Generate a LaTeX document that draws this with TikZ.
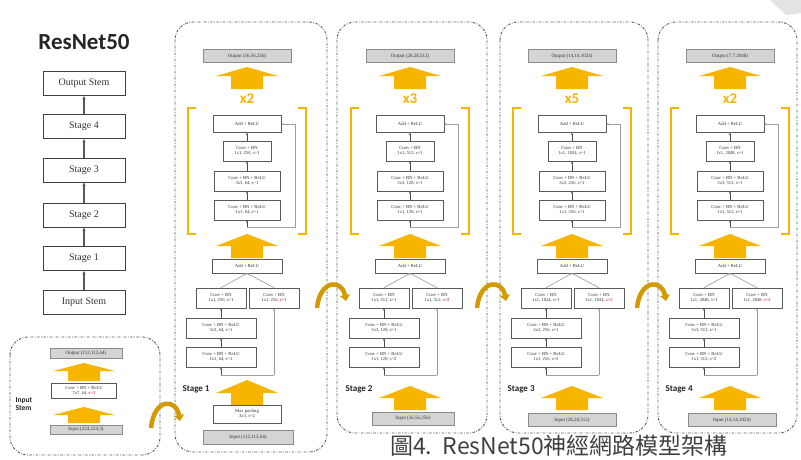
\documentclass[tikz,border=0pt]{standalone}
\usepackage{fontspec}
\setmainfont{Liberation Serif}
\newfontfamily\calib{Carlito}
\newfontfamily\cjk{Noto Sans CJK TC}
\usetikzlibrary{arrows.meta}
\definecolor{gold}{HTML}{F7B500}
\definecolor{iogray}{HTML}{D4D4D4}
\definecolor{boxgray}{HTML}{5A5A5A}
\definecolor{txtgray}{HTML}{333333}
\tikzset{
  box/.style={draw=boxgray, line width=0.6pt, fill=white, align=center, text=txtgray,
    font=\fontsize{4.6}{5.3}\selectfont, inner sep=0.5pt},
  iobox/.style={box, fill=iogray, draw=boxgray!70, font=\fontsize{5}{5.5}\selectfont},
  leftbox/.style={draw=black!75, line width=0.9pt, fill=white, minimum width=82pt,
    minimum height=24pt, font=\fontsize{10}{12}\selectfont, text=black!80},
  flow/.style={-{Stealth[length=2.4pt,width=2.2pt]}, line width=0.6pt, draw=black!70},
  bigflow/.style={-{Stealth[length=3.5pt,width=3.2pt]}, line width=1.2pt, draw=black!65},
  skipline/.style={line width=0.5pt, draw=gray!75},
  stagebox/.style={draw=black!65, line width=0.9pt,
    dash pattern=on 2.5pt off 1.5pt on 0.7pt off 1.5pt, rounded corners=18pt},
  bracketline/.style={draw=gold, line width=1.6pt},
  multlabel/.style={text=gold, font=\calib\bfseries\fontsize{15}{15}\selectfont},
  stagelabel/.style={font=\calib\bfseries\fontsize{9}{9}\selectfont, anchor=west, text=black!85},
  curvarrow/.style={draw=gold!85!black, line width=4.5pt, -{Triangle[length=6pt,width=10pt]}}
}
\newcommand\bigarrow[4]{%
  \fill[gold] (#1,#2) -- (#1+31,#3) -- (#1+16,#3) -- (#1+16,#4) -- (#1-16,#4)
    -- (#1-16,#3) -- (#1-31,#3) -- cycle;}
% upper (identity) block
\newcommand\UpperPart[6]{%
  \node[iobox, minimum width=88pt, minimum height=13pt] (#1out) at (0,56) {Output #2};
  \bigarrow{0}{67}{76}{89}
  \node[multlabel] (#1mult) at (0,99) {#3};
  \draw[bracketline] (-51,108) -| (-59,234) -- (-51,234);
  \draw[bracketline] (51,108) -| (59,234) -- (51,234);
  \node[box, minimum width=68pt, minimum height=17pt] (#1add) at (0,124) {Add + ReLU};
  \node[box, minimum width=48pt, minimum height=20pt] (#1ca) at (0,151) {Conv + BN\\#4};
  \node[box, minimum width=66pt, minimum height=20pt] (#1cb) at (0,181) {Conv + BN + ReLU\\#5};
  \node[box, minimum width=66pt, minimum height=20pt] (#1cc) at (0,210) {Conv + BN + ReLU\\#6};
  \coordinate (#1in) at (0,227);
  \coordinate (#1sk) at (48,227);
  \draw[flow] (#1ca.north) -- (#1add.south);
  \draw[flow] (#1cb.north) -- (#1ca.south);
  \draw[flow] (#1cc.north) -- (#1cb.south);
  \draw[flow] (#1in) -- (#1cc.south);
  \draw[skipline, -{Stealth[length=2.4pt,width=2.2pt]}] (#1in) -- (#1sk) |- (#1add.east);
}
% lower (projection) block
\newcommand\LowerPart[6]{%
  \bigarrow{0}{234}{246}{258}
  \node[box, minimum width=70pt, minimum height=14pt] (#1addb) at (0,266) {Add + ReLU};
  \node[box, minimum width=50pt, minimum height=20pt] (#1la) at (-26,298) {Conv + BN\\#2};
  \node[box, minimum width=50pt, minimum height=20pt] (#1sc) at (27,298) {Conv + BN\\#3};
  \node[box, minimum width=70pt, minimum height=20pt] (#1lb) at (-26,328) {Conv + BN + ReLU\\#4};
  \node[box, minimum width=70pt, minimum height=20pt] (#1lc) at (-26,357) {Conv + BN + ReLU\\#5};
  \coordinate (#1spl) at (-26,375);
  \coordinate (#1spr) at (27,375);
  \draw[flow, draw=gray!80] (#1la.north) -- (#1addb.south);
  \draw[flow, draw=gray!80] (#1sc.north) -- (#1addb.south);
  \draw[flow] (#1lb.north) -- (#1la.south);
  \draw[flow] (#1lc.north) -- (#1lb.south);
  \draw[skipline] (#1spl) -- (#1spr);
  \draw[flow] (#1spl) -- (#1lc.south);
  \draw[flow, draw=gray!80] (#1spr) -- (#1sc.south);
  \node[stagelabel] (#1lab) at (-68,389) {#6};
}
\newcommand\rs[1]{\textcolor{red!75!black}{#1}}
\begin{document}
\begin{tikzpicture}[x=1pt,y=-1pt]
\useasboundingbox (0,0) rectangle (801,459);
\fill[white] (0,0) rectangle (801,459);
\fill[gray!22] (770,0) -- (801,0) -- (801,13) -- (786,15) -- cycle;

% ---------- left overview ----------
\node[font=\calib\bfseries\fontsize{23}{23}\selectfont, text=black!85] (title) at (84,42) {ResNet50};
\node[leftbox] (lout) at (84,83.5) {Output Stem};
\node[leftbox] (ls4) at (84,126.5) {Stage 4};
\node[leftbox] (ls3) at (84,170) {Stage 3};
\node[leftbox] (ls2) at (84,215) {Stage 2};
\node[leftbox] (ls1) at (84,258.5) {Stage 1};
\node[leftbox] (lin) at (84,302) {Input Stem};
\draw[bigflow] (lin.north) -- (ls1.south);
\draw[bigflow] (ls1.north) -- (ls2.south);
\draw[bigflow] (ls2.north) -- (ls3.south);
\draw[bigflow] (ls3.north) -- (ls4.south);
\draw[bigflow] (ls4.north) -- (lout.south);

% ---------- input stem ----------
\draw[stagebox] (10,337) rectangle (160,455);
\node[iobox, minimum width=72pt, minimum height=10pt] (stout) at (86,353) {Output (112,112,64)};
\bigarrow{84}{363}{371}{381}
\node[box, minimum width=65pt, minimum height=15pt] (stconv) at (84,390.5) {Conv + BN + ReLU\\7x7, 64, \rs{s=2}};
\bigarrow{84}{407}{415}{423}
\node[iobox, minimum width=72pt, minimum height=9pt] (stin) at (86,429.5) {Input (224,224,3)};
\node[font=\calib\bfseries\fontsize{7.5}{8.5}\selectfont, align=left, anchor=west, text=black!85] (stlab) at (12,404) {Input\\Stem};

% ---------- stage boxes ----------
\draw[stagebox] (175,22) rectangle (327,452);
\draw[stagebox] (337,22) rectangle (487,433);
\draw[stagebox] (500,22) rectangle (648,433);
\draw[stagebox] (658,22) rectangle (797,433);

% stage 1
\begin{scope}[shift={(247,0)}]
  \UpperPart{a}{(56,56,256)}{x2}{1x1, 256, s=1}{3x3, 64, s=1}{1x1, 64, s=1}
  \LowerPart{a}{1x1, 256, s=1}{1x1, 256, \rs{s=1}}{3x3, 64, s=1}{1x1, 64, s=1}{Stage 1}
  \bigarrow{0}{380}{393}{405}
  \node[box, minimum width=68pt, minimum height=18pt] (amax) at (0,414) {Max pooling\\3x3, s=2};
  \node[iobox, minimum width=90pt, minimum height=14pt] (ainp) at (1,437) {Input (112,112,64)};
\end{scope}
% stage 2
\begin{scope}[shift={(410,0)}]
  \UpperPart{b}{(28,28,512)}{x3}{1x1, 512, s=1}{3x3, 128, s=1}{1x1, 128, s=1}
  \LowerPart{b}{1x1, 512, s=1}{1x1, 512, \rs{s=2}}{3x3, 128, s=1}{1x1, 128, s=2}{Stage 2}
  \bigarrow{0}{386}{398}{410}
  \node[iobox, minimum width=82pt, minimum height=13pt] (binp) at (3,418.5) {Input (56,56,256)};
\end{scope}
% stage 3
\begin{scope}[shift={(572,0)}]
  \UpperPart{c}{(14,14,1024)}{x5}{1x1, 1024, s=1}{3x3, 256, s=1}{1x1, 256, s=1}
  \LowerPart{c}{1x1, 1024, s=1}{1x1, 1024, \rs{s=2}}{3x3, 256, s=1}{1x1, 256, s=2}{Stage 3}
  \bigarrow{0}{386}{398}{410}
  \node[iobox, minimum width=88pt, minimum height=13pt] (cinp) at (0,420) {Input (28,28,512)};
\end{scope}
% stage 4
\begin{scope}[shift={(730,0)}]
  \UpperPart{d}{(7,7,2048)}{x2}{1x1, 2048, s=1}{3x3, 512, s=1}{1x1, 512, s=1}
  \LowerPart{d}{1x1, 2048, s=1}{1x1, 2048, \rs{s=2}}{3x3, 512, s=1}{1x1, 512, s=2}{Stage 4}
  \bigarrow{0}{386}{398}{410}
  \node[iobox, minimum width=88pt, minimum height=13pt] (dinp) at (2,420) {Input (14,14,1024)};
\end{scope}

% ---------- curved transition arrows ----------
\draw[curvarrow] (151,428) .. controls (154,398) and (176,398) .. (180,421);
\draw[curvarrow] (317,308) .. controls (320,279) and (342,279) .. (346,301);
\draw[curvarrow] (477,308) .. controls (480,279) and (502,279) .. (506,301);
\draw[curvarrow] (637,308) .. controls (640,279) and (662,279) .. (666,301);

% ---------- caption ----------
\node[font=\cjk\fontsize{23}{23}\selectfont, text=black!75, anchor=west, inner sep=0pt] (cap) at (390,446) {圖4.\ \ ResNet50神經網路模型架構};
\end{tikzpicture}
\end{document}
